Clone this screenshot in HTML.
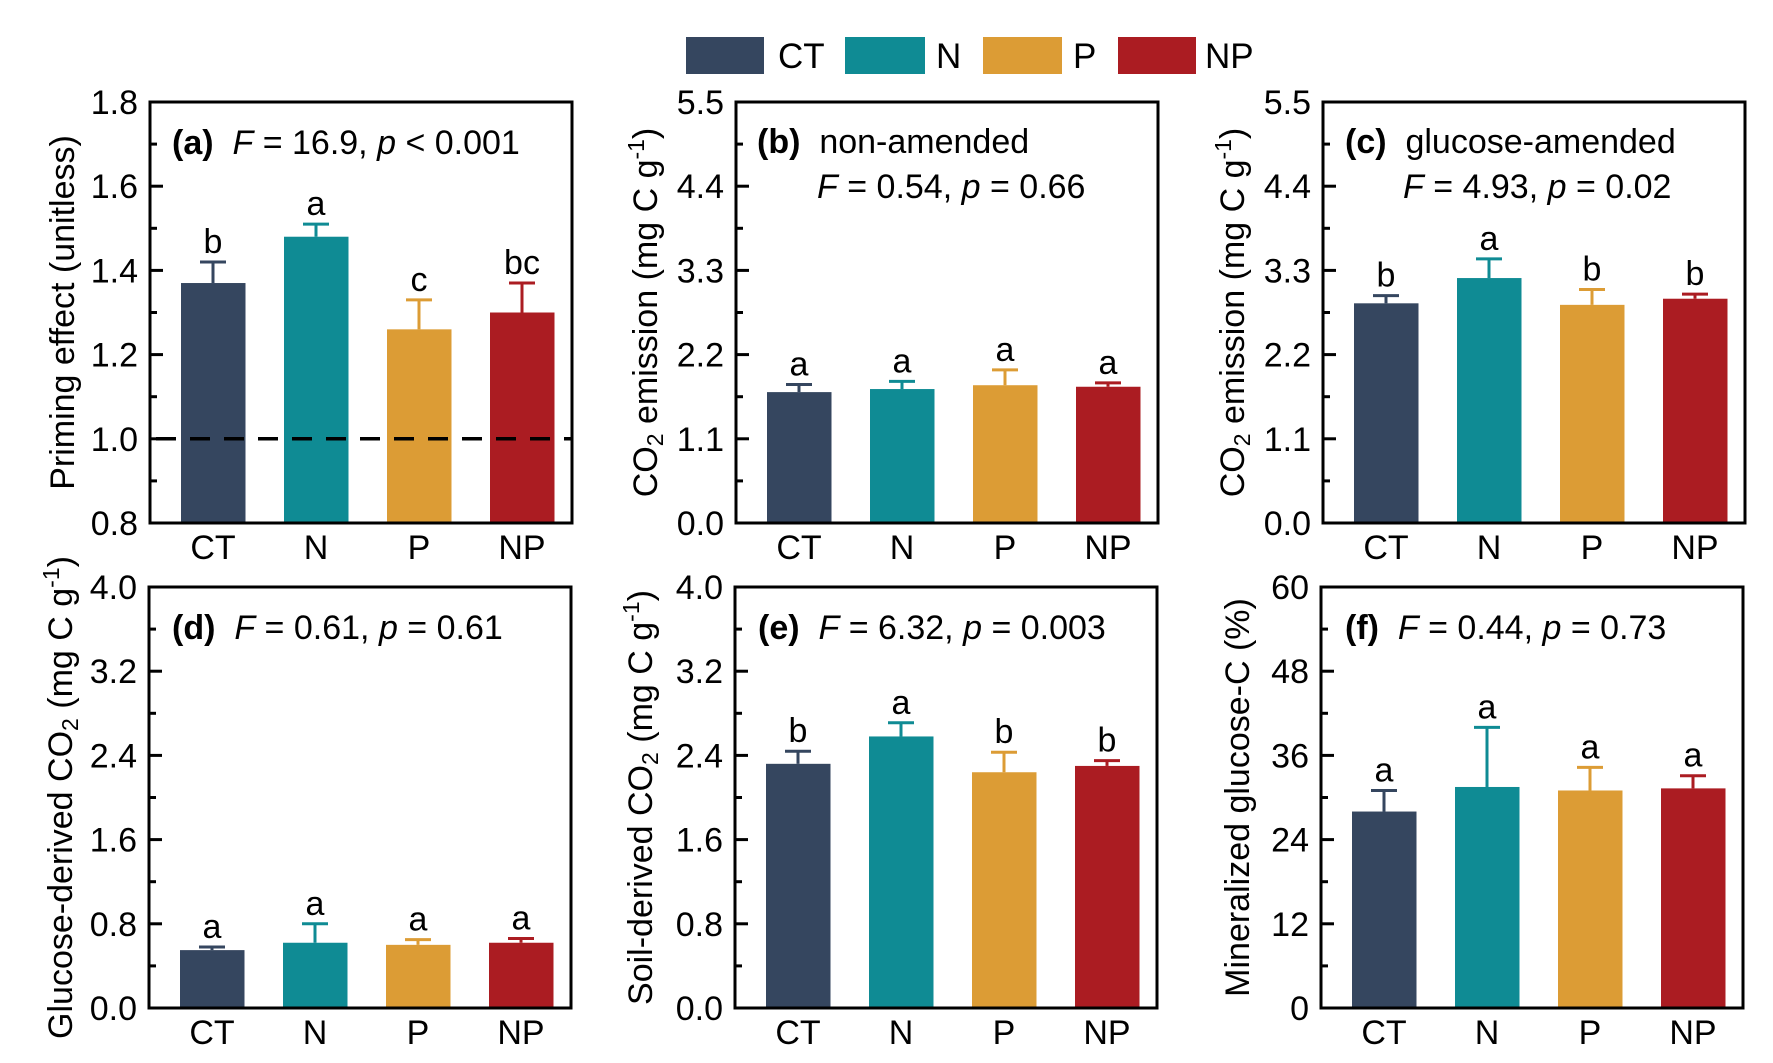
<!DOCTYPE html>
<html><head><meta charset="utf-8">
<style>
html,body{margin:0;padding:0;background:#fff;}
svg{display:block;font-family:"Liberation Sans",Arial,sans-serif;}
</style></head>
<body>
<svg id="fig" width="1773" height="1063" viewBox="0 0 1773 1063" xmlns="http://www.w3.org/2000/svg">
  <g>
    <rect x="686" y="37" width="78" height="37" fill="#35465f"/>
    <text x="778" y="68" font-size="35">CT</text>
    <rect x="845" y="37" width="80" height="37" fill="#0f8b94"/>
    <text x="936" y="68" font-size="35">N</text>
    <rect x="983" y="37" width="79" height="37" fill="#dc9c35"/>
    <text x="1073" y="68" font-size="35">P</text>
    <rect x="1118" y="37" width="78" height="37" fill="#ab1c22"/>
    <text x="1205" y="68" font-size="35">NP</text>
  </g>
</svg>
<script>
const categories = ["CT","N","P","NP"];
const colors = ["#35465f","#0f8b94","#dc9c35","#ab1c22"];
const meanA = [1.37,1.48,1.26,1.30]; const errA = [0.05,0.03,0.07,0.07]; const letA = ["b","a","c","bc"];
const meanB = [1.71,1.75,1.80,1.78]; const errB = [0.10,0.10,0.20,0.05]; const letB = ["a","a","a","a"];
const meanC = [2.87,3.20,2.85,2.93]; const errC = [0.10,0.25,0.20,0.06]; const letC = ["b","a","b","b"];
const meanD = [0.55,0.62,0.60,0.62]; const errD = [0.03,0.18,0.05,0.04]; const letD = ["a","a","a","a"];
const meanE = [2.32,2.58,2.24,2.30]; const errE = [0.12,0.13,0.19,0.05]; const letE = ["b","a","b","b"];
const meanF = [28.0,31.5,31.0,31.3]; const errF = [3.0,8.5,3.3,1.8]; const letF = ["a","a","a","a"];
const ticksA = ["0.8","1.0","1.2","1.4","1.6","1.8"];
const ticksBC = ["0.0","1.1","2.2","3.3","4.4","5.5"];
const ticksDE = ["0.0","0.8","1.6","2.4","3.2","4.0"];
const ticksF = ["0","12","24","36","48","60"];

const NS="http://www.w3.org/2000/svg";
const svg=document.getElementById('fig');
function mk(tag,attrs,parent){const e=document.createElementNS(NS,tag);for(const k in attrs)e.setAttribute(k,attrs[k]);(parent||svg).appendChild(e);return e;}

const panels=[
 {id:'a',x:150,y:102,means:meanA,errs:errA,lets:letA,ticks:ticksA,min:0.8,max:1.8,title:[["Priming effect (unitless)",""]],tx:62,dash:1.0,
  ann:[{x:172,y:154,parts:[["(a)","b"],["  ",""],["F","i"],[" = 16.9, ",""],["p","i"],[" < 0.001",""]]}]},
 {id:'b',x:736,y:102,means:meanB,errs:errB,lets:letB,ticks:ticksBC,min:0,max:5.5,title:"co2",tx:645,
  ann:[{x:757,y:153,parts:[["(b)","b"],["  non-amended",""]]},{x:817,y:198,parts:[["F","i"],[" = 0.54, ",""],["p","i"],[" = 0.66",""]]}]},
 {id:'c',x:1323,y:102,means:meanC,errs:errC,lets:letC,ticks:ticksBC,min:0,max:5.5,title:"co2",tx:1232,
  ann:[{x:1345,y:153,parts:[["(c)","b"],["  glucose-amended",""]]},{x:1403,y:198,parts:[["F","i"],[" = 4.93, ",""],["p","i"],[" = 0.02",""]]}]},
 {id:'d',x:149,y:587,means:meanD,errs:errD,lets:letD,ticks:ticksDE,min:0,max:4,title:"glu",tx:60,
  ann:[{x:172,y:639,parts:[["(d)","b"],["  ",""],["F","i"],[" = 0.61, ",""],["p","i"],[" = 0.61",""]]}]},
 {id:'e',x:735,y:587,means:meanE,errs:errE,lets:letE,ticks:ticksDE,min:0,max:4,title:"soil",tx:640,
  ann:[{x:758,y:639,parts:[["(e)","b"],["  ",""],["F","i"],[" = 6.32, ",""],["p","i"],[" = 0.003",""]]}]},
 {id:'f',x:1321,y:587,means:meanF,errs:errF,lets:letF,ticks:ticksF,min:0,max:60,title:[["Mineralized glucose-C (%)",""]],tx:1237,
  ann:[{x:1345,y:639,parts:[["(f)","b"],["  ",""],["F","i"],[" = 0.44, ",""],["p","i"],[" = 0.73",""]]}]}
];
const W=422,H=421,FS=34;
panels.forEach(p=>{
  const g=mk('g',{});
  
  
  const ys=v=>p.y+H-(v-p.min)/(p.max-p.min)*H;
  const xc=i=>p.x+63+i*103;
  p.means.forEach((m,i)=>{
    const top=ys(m+p.errs[i]);
    const el=mk('line',{x1:xc(i),x2:xc(i),y1:ys(m),y2:top,stroke:colors[i],'stroke-width':3},g);
    
    
    const cap=mk('line',{x1:xc(i)-13,x2:xc(i)+13,y1:top,y2:top,stroke:colors[i],'stroke-width':3},g);
    
    
    const r=mk('rect',{x:xc(i)-32,y:ys(m),width:64.5,height:ys(p.min)-ys(m),fill:colors[i]},g);
    
    
    const t=mk('text',{x:xc(i),y:top-9,'font-size':FS,'text-anchor':'middle'},g);
    t.textContent=p.lets[i];
    
    
    const c=mk('text',{x:xc(i),y:p.y+H+36,'font-size':FS,'text-anchor':'middle'},g);
    c.textContent=categories[i];
    
    
  });
  if(p.dash!==undefined){
    const d=mk('line',{x1:p.x,x2:p.x+W,y1:ys(p.dash),y2:ys(p.dash),stroke:'#000','stroke-width':3.5,'stroke-dasharray':'20 14','stroke-dashoffset':'-6'},g);
    
    
  }
  const fr=mk('rect',{x:p.x,y:p.y,width:W,height:H,fill:'none',stroke:'#000','stroke-width':3},g);
  
  
  const n=p.ticks.length-1;
  for(let k=0;k<=2*n;k++){
    const v=p.min+(p.max-p.min)*k/(2*n);
    const y=ys(v);
    const len=k%2===0?13:7;
    const tl=mk('line',{x1:p.x,x2:p.x+len,y1:y,y2:y,stroke:'#000','stroke-width':3},g);
    
    
  }
  p.ticks.forEach((lab,k)=>{
    const y=ys(p.min+(p.max-p.min)*k/n);
    const t=mk('text',{x:p.x-12,y:y+12,'font-size':FS,'text-anchor':'end'},g);
    t.textContent=lab;
    
    
  });
  const cy=p.y+H/2;
  const tt=mk('text',{x:p.tx,y:cy,'font-size':FS,'text-anchor':'middle',transform:`rotate(-90 ${p.tx} ${cy})`,dy:'0.35em'},g);
  
  
  let parts;
  if(Array.isArray(p.title)) parts=p.title;
  else {
    const pre={co2:"CO",glu:"Glucose-derived CO",soil:"Soil-derived CO"}[p.title];
    const post=p.title==='co2'?" emission (mg C g":" (mg C g";
    parts=[[pre,""],["2","sub"],[post,""],["-1","sup"],[")",""]];
  }
  parts.forEach(([s,k])=>{
    const ts=mk('tspan',{},tt);
    if(k==='sub'){ts.setAttribute('font-size',23);ts.setAttribute('baseline-shift','-25%');}
    if(k==='sup'){ts.setAttribute('font-size',23);ts.setAttribute('baseline-shift','55%');}
    ts.textContent=s;
  });
  p.ann.forEach(a=>{
    const t=mk('text',{x:a.x,y:a.y,'font-size':FS,'xml:space':'preserve'},g);
    
    
    t.style.whiteSpace='pre';
    a.parts.forEach(([s,k])=>{
      const ts=mk('tspan',{},t);
      if(k==='b')ts.setAttribute('font-weight','bold');
      if(k==='i')ts.setAttribute('font-style','italic');
      ts.textContent=s;
    });
  });
});
</script>
</body></html>
